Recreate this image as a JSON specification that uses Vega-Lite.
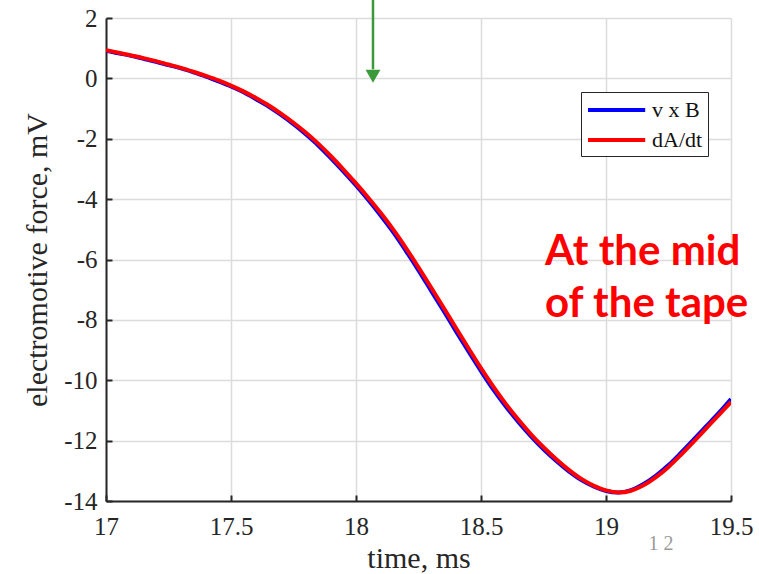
{
  "$schema": "https://vega.github.io/schema/vega-lite/v6.json",
  "width": 625,
  "height": 483,
  "autosize": {"type": "none"},
  "padding": {"left": 106, "top": 18, "right": 28, "bottom": 73},
  "background": "white",
  "config": {
    "view": {"stroke": null},
    "axis": {
      "labelFont": "Liberation Serif",
      "titleFont": "Liberation Serif",
      "labelFontSize": 25,
      "titleFontSize": 30,
      "titleFontWeight": "normal",
      "labelColor": "#262626",
      "titleColor": "#262626",
      "domainColor": "#262626",
      "domainWidth": 2,
      "tickColor": "#262626",
      "tickWidth": 2,
      "tickSize": -6,
      "labelFlush": false,
      "labelOverlap": false,
      "gridColor": "#dcdcdc",
      "gridWidth": 1.5
    }
  },
  "layer": [
    {
      "data": {
        "values": [
          {"t": 17.00, "v": 0.92, "s": "v x B"},
          {"t": 17.05, "v": 0.83, "s": "v x B"},
          {"t": 17.10, "v": 0.75, "s": "v x B"},
          {"t": 17.15, "v": 0.65, "s": "v x B"},
          {"t": 17.20, "v": 0.55, "s": "v x B"},
          {"t": 17.25, "v": 0.44, "s": "v x B"},
          {"t": 17.30, "v": 0.33, "s": "v x B"},
          {"t": 17.35, "v": 0.20, "s": "v x B"},
          {"t": 17.40, "v": 0.06, "s": "v x B"},
          {"t": 17.45, "v": -0.10, "s": "v x B"},
          {"t": 17.50, "v": -0.27, "s": "v x B"},
          {"t": 17.55, "v": -0.46, "s": "v x B"},
          {"t": 17.60, "v": -0.69, "s": "v x B"},
          {"t": 17.65, "v": -0.93, "s": "v x B"},
          {"t": 17.70, "v": -1.21, "s": "v x B"},
          {"t": 17.75, "v": -1.52, "s": "v x B"},
          {"t": 17.80, "v": -1.86, "s": "v x B"},
          {"t": 17.85, "v": -2.23, "s": "v x B"},
          {"t": 17.90, "v": -2.65, "s": "v x B"},
          {"t": 17.95, "v": -3.09, "s": "v x B"},
          {"t": 18.00, "v": -3.55, "s": "v x B"},
          {"t": 18.05, "v": -4.04, "s": "v x B"},
          {"t": 18.10, "v": -4.56, "s": "v x B"},
          {"t": 18.15, "v": -5.11, "s": "v x B"},
          {"t": 18.20, "v": -5.72, "s": "v x B"},
          {"t": 18.25, "v": -6.36, "s": "v x B"},
          {"t": 18.30, "v": -7.03, "s": "v x B"},
          {"t": 18.35, "v": -7.70, "s": "v x B"},
          {"t": 18.40, "v": -8.38, "s": "v x B"},
          {"t": 18.45, "v": -9.05, "s": "v x B"},
          {"t": 18.50, "v": -9.70, "s": "v x B"},
          {"t": 18.55, "v": -10.32, "s": "v x B"},
          {"t": 18.60, "v": -10.88, "s": "v x B"},
          {"t": 18.65, "v": -11.39, "s": "v x B"},
          {"t": 18.70, "v": -11.86, "s": "v x B"},
          {"t": 18.75, "v": -12.29, "s": "v x B"},
          {"t": 18.80, "v": -12.67, "s": "v x B"},
          {"t": 18.85, "v": -13.01, "s": "v x B"},
          {"t": 18.90, "v": -13.30, "s": "v x B"},
          {"t": 18.95, "v": -13.52, "s": "v x B"},
          {"t": 19.00, "v": -13.67, "s": "v x B"},
          {"t": 19.05, "v": -13.72, "s": "v x B"},
          {"t": 19.10, "v": -13.64, "s": "v x B"},
          {"t": 19.15, "v": -13.44, "s": "v x B"},
          {"t": 19.20, "v": -13.16, "s": "v x B"},
          {"t": 19.25, "v": -12.81, "s": "v x B"},
          {"t": 19.30, "v": -12.40, "s": "v x B"},
          {"t": 19.35, "v": -11.97, "s": "v x B"},
          {"t": 19.40, "v": -11.53, "s": "v x B"},
          {"t": 19.45, "v": -11.09, "s": "v x B"},
          {"t": 19.50, "v": -10.62, "s": "v x B"},
          {"t": 17.00, "v": 0.93, "s": "dA/dt"},
          {"t": 17.05, "v": 0.85, "s": "dA/dt"},
          {"t": 17.10, "v": 0.76, "s": "dA/dt"},
          {"t": 17.15, "v": 0.67, "s": "dA/dt"},
          {"t": 17.20, "v": 0.57, "s": "dA/dt"},
          {"t": 17.25, "v": 0.46, "s": "dA/dt"},
          {"t": 17.30, "v": 0.35, "s": "dA/dt"},
          {"t": 17.35, "v": 0.22, "s": "dA/dt"},
          {"t": 17.40, "v": 0.08, "s": "dA/dt"},
          {"t": 17.45, "v": -0.07, "s": "dA/dt"},
          {"t": 17.50, "v": -0.24, "s": "dA/dt"},
          {"t": 17.55, "v": -0.43, "s": "dA/dt"},
          {"t": 17.60, "v": -0.65, "s": "dA/dt"},
          {"t": 17.65, "v": -0.89, "s": "dA/dt"},
          {"t": 17.70, "v": -1.17, "s": "dA/dt"},
          {"t": 17.75, "v": -1.47, "s": "dA/dt"},
          {"t": 17.80, "v": -1.80, "s": "dA/dt"},
          {"t": 17.85, "v": -2.17, "s": "dA/dt"},
          {"t": 17.90, "v": -2.58, "s": "dA/dt"},
          {"t": 17.95, "v": -3.02, "s": "dA/dt"},
          {"t": 18.00, "v": -3.48, "s": "dA/dt"},
          {"t": 18.05, "v": -3.96, "s": "dA/dt"},
          {"t": 18.10, "v": -4.47, "s": "dA/dt"},
          {"t": 18.15, "v": -5.02, "s": "dA/dt"},
          {"t": 18.20, "v": -5.62, "s": "dA/dt"},
          {"t": 18.25, "v": -6.26, "s": "dA/dt"},
          {"t": 18.30, "v": -6.92, "s": "dA/dt"},
          {"t": 18.35, "v": -7.59, "s": "dA/dt"},
          {"t": 18.40, "v": -8.27, "s": "dA/dt"},
          {"t": 18.45, "v": -8.94, "s": "dA/dt"},
          {"t": 18.50, "v": -9.60, "s": "dA/dt"},
          {"t": 18.55, "v": -10.22, "s": "dA/dt"},
          {"t": 18.60, "v": -10.79, "s": "dA/dt"},
          {"t": 18.65, "v": -11.31, "s": "dA/dt"},
          {"t": 18.70, "v": -11.79, "s": "dA/dt"},
          {"t": 18.75, "v": -12.22, "s": "dA/dt"},
          {"t": 18.80, "v": -12.61, "s": "dA/dt"},
          {"t": 18.85, "v": -12.96, "s": "dA/dt"},
          {"t": 18.90, "v": -13.26, "s": "dA/dt"},
          {"t": 18.95, "v": -13.49, "s": "dA/dt"},
          {"t": 19.00, "v": -13.65, "s": "dA/dt"},
          {"t": 19.05, "v": -13.72, "s": "dA/dt"},
          {"t": 19.10, "v": -13.66, "s": "dA/dt"},
          {"t": 19.15, "v": -13.48, "s": "dA/dt"},
          {"t": 19.20, "v": -13.21, "s": "dA/dt"},
          {"t": 19.25, "v": -12.87, "s": "dA/dt"},
          {"t": 19.30, "v": -12.47, "s": "dA/dt"},
          {"t": 19.35, "v": -12.04, "s": "dA/dt"},
          {"t": 19.40, "v": -11.60, "s": "dA/dt"},
          {"t": 19.45, "v": -11.16, "s": "dA/dt"},
          {"t": 19.50, "v": -10.72, "s": "dA/dt"}
        ]
      },
      "mark": {"type": "line", "strokeWidth": 4, "interpolate": "catmull-rom", "clip": true},
      "encoding": {
        "x": {
          "field": "t", "type": "quantitative",
          "scale": {"domain": [17, 19.5], "nice": false, "zero": false},
          "axis": {"values": [17, 17.5, 18, 18.5, 19, 19.5], "title": "time, ms", "labelPadding": 19, "titlePadding": 4, "labelExpr": "'' + datum.value"}
        },
        "y": {
          "field": "v", "type": "quantitative",
          "scale": {"domain": [-14, 2], "nice": false, "zero": false},
          "axis": {"values": [-14, -12, -10, -8, -6, -4, -2, 0, 2], "title": "electromotive force, mV", "labelPadding": 15, "titlePadding": 11, "labelExpr": "'' + datum.value"}
        },
        "color": {
          "field": "s", "type": "nominal",
          "scale": {"domain": ["v x B", "dA/dt"], "range": ["#0000ff", "#ff0000"]},
          "legend": {
            "title": null,
            "orient": "none",
            "legendX": 475,
            "legendY": 74,
            "symbolType": "M-1,0H4.2",
            "symbolSize": 484,
            "symbolStrokeWidth": 4,
            "labelFont": "Liberation Serif",
            "labelFontSize": 22,
            "labelColor": "#111111",
            "labelOffset": 40,
            "rowPadding": 6,
            "padding": 5,
            "fillColor": "white",
            "strokeColor": "#262626",
            "cornerRadius": 0
          }
        }
      }
    },
    {
      "data": {"values": [{"t": 18.068, "top": 2.6, "bottom": 0.3}]},
      "mark": {"type": "rule", "color": "#3a9a3a", "strokeWidth": 2.5, "clip": false},
      "encoding": {
        "x": {"field": "t", "type": "quantitative"},
        "y": {"field": "top", "type": "quantitative"},
        "y2": {"field": "bottom"}
      }
    },
    {
      "data": {"values": [{"t": 18.068, "v": 0.07}]},
      "mark": {"type": "point", "shape": "triangle-down", "filled": true, "color": "#3a9a3a", "size": 220, "opacity": 1, "clip": false},
      "encoding": {
        "x": {"field": "t", "type": "quantitative"},
        "y": {"field": "v", "type": "quantitative"}
      }
    },
    {
      "data": {"values": [{"t": 18.756, "v": -6.19, "label": "At the mid"}, {"t": 18.756, "v": -7.91, "label": "of the tape"}]},
      "mark": {"type": "text", "align": "left", "baseline": "alphabetic", "font": "Lato", "fontWeight": "bold", "fontSize": 42, "color": "#ff0000", "clip": false},
      "encoding": {
        "x": {"field": "t", "type": "quantitative"},
        "y": {"field": "v", "type": "quantitative"},
        "text": {"field": "label"}
      }
    },
    {
      "data": {"values": [{"t": 19.22, "v": -15.42, "label": "1 2"}]},
      "mark": {"type": "text", "align": "center", "baseline": "middle", "font": "Liberation Serif", "fontSize": 20, "color": "#9a9a9a", "clip": false},
      "encoding": {
        "x": {"field": "t", "type": "quantitative"},
        "y": {"field": "v", "type": "quantitative"},
        "text": {"field": "label"}
      }
    }
  ]
}
